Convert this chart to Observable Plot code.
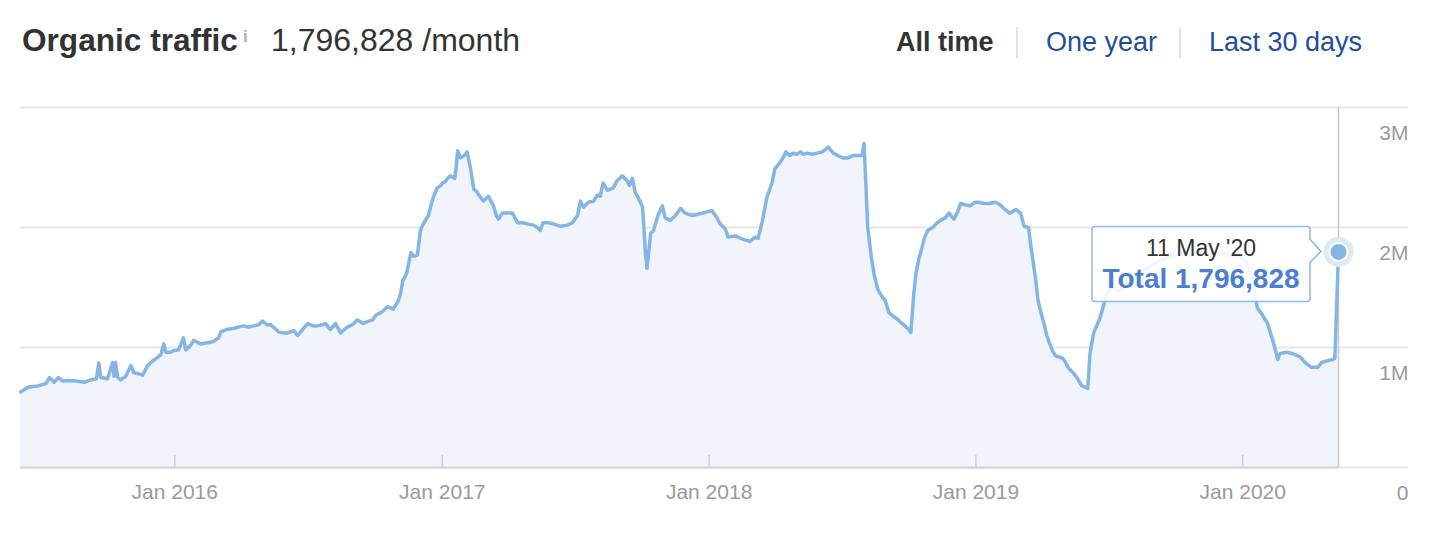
<!DOCTYPE html>
<html><head><meta charset="utf-8">
<script src="https://cdn.jsdelivr.net/npm/d3@7"></script>
<script src="https://cdn.jsdelivr.net/npm/@observablehq/plot@0.6"></script>
<style>
html,body{margin:0;padding:0;background:#fff;}
body{width:1436px;height:554px;overflow:hidden;font-family:"Liberation Sans",Arial,Helvetica,sans-serif;}
#wrap{position:relative;width:1436px;height:554px;}
.h{position:absolute;white-space:nowrap;}
.sep{position:absolute;width:2px;background:#e3e3e3;}
#chart{position:absolute;left:0;top:90px;}
</style></head><body>
<div id="wrap">
  <div class="h" style="left:22px;top:25px;font-size:31.6px;line-height:31px;font-weight:bold;color:#333">Organic traffic</div>
  <div class="h" style="left:243px;top:28px;font-size:17px;line-height:17px;font-weight:bold;color:#b0b0b0">i</div>
  <div class="h" style="left:271px;top:24px;font-size:32px;line-height:32px;color:#333">1,796,828 /month</div>
  <div class="h" style="left:896px;top:29px;font-size:27px;line-height:27px;font-weight:bold;color:#333">All time</div>
  <div class="sep" style="left:1016px;top:27px;height:31px"></div>
  <div class="h" style="left:1046px;top:29px;font-size:27px;line-height:27px;color:#1f4e9d">One year</div>
  <div class="sep" style="left:1179px;top:28px;height:30px"></div>
  <div class="h" style="left:1209px;top:29px;font-size:27px;line-height:27px;color:#1f4e9d">Last 30 days</div>
  <div id="chart"></div>
</div>
<script>
const dates = [
"2015-06-04","2015-06-15","2015-06-28","2015-07-09","2015-07-14","2015-07-20","2015-07-26","2015-08-01","2015-08-08","2015-08-19",
"2015-08-30","2015-09-08","2015-09-16","2015-09-19","2015-09-22","2015-10-01","2015-10-08","2015-10-10","2015-10-12","2015-10-15",
"2015-10-19","2015-10-26","2015-11-02","2015-11-06","2015-11-13","2015-11-18","2015-11-25","2015-12-02","2015-12-09","2015-12-13",
"2015-12-17","2015-12-20","2015-12-26","2015-12-31",
"2016-01-06","2016-01-13","2016-01-16","2016-01-23","2016-01-27","2016-02-05","2016-02-15","2016-02-23","2016-03-01","2016-03-04",
"2016-03-12","2016-03-22","2016-03-28","2016-04-04","2016-04-11","2016-04-18","2016-04-25","2016-04-30","2016-05-06","2016-05-11",
"2016-05-17","2016-05-22","2016-05-29","2016-06-03","2016-06-07","2016-06-12","2016-06-17","2016-06-24","2016-07-01","2016-07-08",
"2016-07-14","2016-07-21","2016-07-25","2016-08-01","2016-08-08","2016-08-15","2016-08-20","2016-08-24","2016-08-31","2016-09-07",
"2016-09-15","2016-09-22","2016-09-28","2016-10-02","2016-10-09","2016-10-13","2016-10-18","2016-10-22","2016-10-26","2016-11-02",
"2016-11-05","2016-11-08","2016-11-12","2016-11-14","2016-11-19","2016-11-23","2016-11-28","2016-12-02","2016-12-06","2016-12-13",
"2016-12-19","2016-12-23","2016-12-25","2016-12-30",
"2017-01-01","2017-01-05","2017-01-08","2017-01-12","2017-01-18","2017-01-20","2017-01-22","2017-01-26","2017-01-31","2017-02-04",
"2017-02-09","2017-02-13","2017-02-17","2017-02-19","2017-02-26","2017-03-05","2017-03-12","2017-03-16","2017-03-19","2017-03-24",
"2017-03-31","2017-04-07","2017-04-14","2017-04-21","2017-04-27","2017-05-06","2017-05-11","2017-05-15","2017-05-19","2017-05-26",
"2017-06-02","2017-06-12","2017-06-21","2017-06-28","2017-07-05","2017-07-09","2017-07-13","2017-07-20","2017-07-27","2017-08-01",
"2017-08-05","2017-08-09","2017-08-15","2017-08-23","2017-08-28","2017-09-04","2017-09-11","2017-09-14","2017-09-18","2017-09-22",
"2017-09-26","2017-10-02","2017-10-06","2017-10-08","2017-10-13","2017-10-17","2017-10-23","2017-10-29","2017-11-02","2017-11-09",
"2017-11-16","2017-11-23","2017-11-29","2017-12-09","2017-12-16","2017-12-23","2017-12-29",
"2018-01-05","2018-01-12","2018-01-16","2018-01-23","2018-01-27","2018-02-06","2018-02-17","2018-02-26","2018-03-05","2018-03-09",
"2018-03-15","2018-03-21","2018-03-28","2018-04-01","2018-04-08","2018-04-12","2018-04-16","2018-04-21","2018-04-26","2018-05-01",
"2018-05-06","2018-05-10","2018-05-15","2018-05-22","2018-05-29","2018-06-05","2018-06-13","2018-06-20","2018-06-26","2018-07-03",
"2018-07-10","2018-07-17","2018-07-24","2018-07-29","2018-08-01","2018-08-06","2018-08-11","2018-08-15","2018-08-20","2018-08-26",
"2018-08-30","2018-09-04","2018-09-10","2018-09-15","2018-09-20","2018-09-26","2018-10-01","2018-10-04","2018-10-08","2018-10-11",
"2018-10-15","2018-10-19","2018-10-23","2018-10-27","2018-11-03","2018-11-09","2018-11-14","2018-11-20","2018-11-25","2018-12-02",
"2018-12-07","2018-12-11","2018-12-17","2018-12-24","2018-12-31",
"2019-01-05","2019-01-12","2019-01-19","2019-01-28","2019-02-03","2019-02-08","2019-02-16","2019-02-25","2019-03-03","2019-03-08",
"2019-03-14","2019-03-17","2019-03-20","2019-03-24","2019-03-27","2019-03-31","2019-04-04","2019-04-08","2019-04-12","2019-04-16",
"2019-04-20","2019-04-30","2019-05-04","2019-05-08","2019-05-14","2019-05-19","2019-05-23","2019-05-26","2019-06-03","2019-06-06",
"2019-06-11","2019-06-20","2019-06-25","2019-06-29","2019-07-06","2019-07-14","2019-07-21","2019-07-30","2019-08-13","2019-08-27",
"2019-09-09","2019-09-23","2019-10-07","2019-10-20","2019-11-03","2019-11-17","2019-11-30","2019-12-14","2019-12-28",
"2020-01-05","2020-01-11","2020-01-16","2020-01-21","2020-01-27","2020-02-04","2020-02-12","2020-02-18","2020-02-21","2020-03-01",
"2020-03-09","2020-03-20","2020-03-27","2020-04-04","2020-04-13","2020-04-18","2020-04-26","2020-05-03","2020-05-06","2020-05-11"
];
const traffic = [
630000,670000,680000,700000,750000,710000,750000,720000,725000,720000,
710000,730000,740000,870000,750000,740000,875000,760000,875000,750000,
730000,760000,850000,790000,780000,770000,850000,890000,920000,940000,
1030000,960000,960000,975000,
980000,1080000,980000,1020000,1060000,1030000,1040000,1050000,1080000,1130000,
1150000,1160000,1170000,1180000,1170000,1180000,1190000,1220000,1190000,1190000,
1160000,1130000,1120000,1120000,1130000,1140000,1100000,1150000,1200000,1180000,
1180000,1190000,1200000,1150000,1200000,1120000,1150000,1170000,1190000,1230000,
1200000,1220000,1230000,1270000,1290000,1310000,1340000,1330000,1320000,1390000,
1450000,1560000,1600000,1640000,1790000,1760000,1770000,1975000,2030000,2100000,
2240000,2300000,2330000,2350000,
2370000,2380000,2410000,2430000,2410000,2500000,2640000,2580000,2600000,2630000,
2480000,2320000,2300000,2280000,2220000,2260000,2180000,2100000,2070000,2120000,
2120000,2120000,2040000,2040000,2030000,2020000,2000000,1975000,2040000,2040000,
2030000,2010000,2020000,2040000,2100000,2220000,2170000,2210000,2220000,2270000,
2260000,2370000,2310000,2330000,2390000,2430000,2390000,2350000,2410000,2290000,
2250000,2170000,1780000,1660000,1950000,1975000,2100000,2180000,2080000,2060000,
2100000,2160000,2120000,2100000,2110000,2120000,2130000,
2140000,2080000,2030000,1990000,1920000,1930000,1900000,1885000,1920000,1910000,
2060000,2250000,2370000,2490000,2540000,2580000,2630000,2600000,2620000,2610000,
2630000,2610000,2620000,2610000,2620000,2630000,2670000,2620000,2600000,2580000,
2580000,2600000,2600000,2600000,2700000,2000000,1750000,1600000,1480000,1420000,
1390000,1290000,1260000,1240000,1210000,1180000,1150000,1125000,1450000,1620000,
1740000,1830000,1920000,1975000,2000000,2040000,2060000,2080000,2120000,2070000,
2130000,2200000,2190000,2180000,2210000,
2210000,2200000,2200000,2210000,2190000,2160000,2120000,2150000,2120000,2010000,
2000000,1850000,1725000,1550000,1390000,1290000,1200000,1100000,1030000,970000,
930000,910000,870000,825000,790000,750000,710000,680000,660000,950000,
1120000,1250000,1360000,1450000,1500000,1470000,1490000,1550000,1620000,1680000,
1720000,1760000,1780000,1770000,1790000,1780000,1790000,1770000,1760000,
1720000,1640000,1500000,1330000,1280000,1200000,1040000,900000,950000,960000,
950000,920000,870000,835000,835000,875000,890000,900000,910000,1796828
];
const xTickDates = ["2016-01-01","2017-01-01","2018-01-01","2019-01-01","2020-01-01"];
const xTickLabels = ["Jan 2016","Jan 2017","Jan 2018","Jan 2019","Jan 2020"];
const yTickValues = [0, 1000000, 2000000, 3000000];
const yTickLabels = ["0", "1M", "2M", "3M"];
const tooltipDate = "11 May '20";
const tooltipLabel = "Total";

const data = dates.map((d, i) => ({date: new Date(d), value: traffic[i]}));
const last = data[data.length - 1];
const xTicks = xTickDates.map(d => new Date(d));

const FONT = '"Liberation Sans", Arial, Helvetica, sans-serif';
const LINE = "#85b5e5";

const chart = Plot.plot({
  width: 1436,
  height: 440,
  marginLeft: 20,
  marginRight: 98,
  marginTop: 17,
  marginBottom: 63,
  style: {fontFamily: FONT, background: "white", overflow: "visible"},
  x: {type: "utc", domain: [data[0].date, last.date], axis: null},
  y: {domain: [0, 3000000], axis: null},
  marks: [
    Plot.gridY(yTickValues, {stroke: "#e7e7e7", strokeOpacity: 1, strokeWidth: 2, insetRight: -70}),
    Plot.areaY(data, {x: "date", y: "value", fill: "#f1f5fb"}),
    Plot.ruleX(xTicks, {stroke: "#cfcfcf", strokeWidth: 1.5, insetTop: 348}),
    Plot.ruleY([0], {stroke: "#d2d2d2", strokeWidth: 2}),
    Plot.ruleX([last.date], {stroke: "#c8c8c8", strokeWidth: 1.5}),
    Plot.lineY(data, {x: "date", y: "value", stroke: LINE, strokeWidth: 3.5, strokeLinejoin: "round"}),
    Plot.dot([last], {x: "date", y: "value", r: 15, fill: "#dde9f7", stroke: "none"}),
    Plot.dot([last], {x: "date", y: "value", r: 9, fill: LINE, stroke: "white", strokeWidth: 2}),
    Plot.text(xTicks, {x: d => d, frameAnchor: "bottom", dy: 31, text: (d, i) => xTickLabels[i], fill: "#9a9a9a", fontSize: 21}),
    Plot.text(yTickValues, {y: d => d, frameAnchor: "right", dx: 70, dy: 26, textAnchor: "end", text: (d, i) => yTickLabels[i], fill: "#9a9a9a", fontSize: 21})
  ]
});
document.getElementById("chart").appendChild(chart);

// tooltip callout, positioned from the chart's own scales
const px = chart.scale("x").apply(last.date);
const py = chart.scale("y").apply(last.value);
const g = d3.select(chart).append("g");
const L = px - 246, R = px - 28, T = py - 25, B = py + 50, rr = 3;
const path = `M${L + rr},${T} H${R - rr} Q${R},${T} ${R},${T + rr} V${py - 12} L${px - 17},${py} L${R},${py + 11} V${B - rr} Q${R},${B} ${R - rr},${B} H${L + rr} Q${L},${B} ${L},${B - rr} V${T + rr} Q${L},${T} ${L + rr},${T} Z`;
g.append("path").attr("d", path).attr("fill", "rgba(255,255,255,0.88)").attr("stroke", "#8cbbe8").attr("stroke-width", 1.5);
const cx = (L + R) / 2;
g.append("text").attr("x", cx).attr("y", py + 5).attr("text-anchor", "middle")
  .attr("font-size", 23).attr("fill", "#333").attr("font-family", FONT).text(tooltipDate);
g.append("text").attr("x", cx).attr("y", py + 37).attr("text-anchor", "middle")
  .attr("font-size", 28).attr("font-weight", "bold").attr("fill", "#4b7fcf").attr("font-family", FONT)
  .text(`${tooltipLabel} ${d3.format(",")(last.value)}`);
</script>
</body></html>
